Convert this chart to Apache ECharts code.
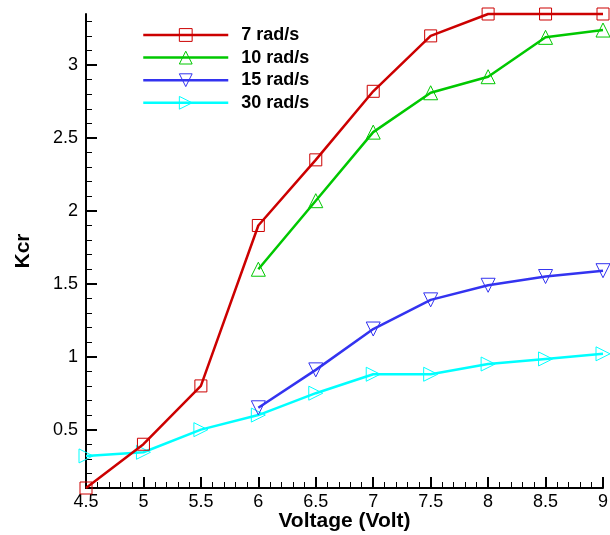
<!DOCTYPE html>
<html><head><meta charset="utf-8">
<script src="https://cdn.jsdelivr.net/npm/echarts@6/dist/echarts.min.js"></script>
<style>html,body{margin:0;padding:0;background:#fff}#c{width:610px;height:535px}</style>
</head><body><div id="c"></div>
<script>
const voltage = [4.5, 5, 5.5, 6, 6.5, 7, 7.5, 8, 8.5, 9];
const k7 = [0.1, 0.4, 0.8, 1.9, 2.35, 2.82, 3.2, 3.35, 3.35, 3.35];
const k10 = [null, null, null, 1.6, 2.07, 2.54, 2.81, 2.92, 3.19, 3.24];
const k15 = [null, null, null, 0.65, 0.91, 1.19, 1.39, 1.49, 1.55, 1.59];
const k30 = [0.32, 0.345, 0.5, 0.6, 0.75, 0.88, 0.88, 0.95, 0.985, 1.02];
const names = ['7 rad/s', '10 rad/s', '15 rad/s', '30 rad/s'];
const yMajor = [0.5, 1, 1.5, 2, 2.5, 3];
const yMinor = [0.2, 0.3, 0.4, 0.6, 0.7, 0.8, 0.9, 1.1, 1.2, 1.3, 1.4, 1.6, 1.7, 1.8, 1.9, 2.1, 2.2, 2.3, 2.4, 2.6, 2.7, 2.8, 2.9, 3.1, 3.2, 3.3];

const colors = ['#cc0000', '#00c800', '#3333f0', '#00ffff'];
const symbols = ['rect', 'triangle', 'triangle', 'triangle'];
const rotates = [0, 0, 180, -90];
const sets = [k7, k10, k15, k30];
const FONT = 'Liberation Sans, Arial, Helvetica';

const chart = echarts.init(document.getElementById('c'));
const series = sets.map((arr, i) => ({
  name: names[i],
  type: 'line',
  data: voltage.map((v, j) => arr[j] == null ? null : [v, arr[j]]).filter(d => d),
  symbol: symbols[i],
  symbolRotate: rotates[i],
  symbolSize: i === 0 ? 12 : 14,
  showAllSymbol: true,
  clip: false,
  lineStyle: { color: colors[i], width: 2.5 },
  itemStyle: { color: 'rgba(0,0,0,0)', borderColor: colors[i], borderWidth: 1 },
  emphasis: { disabled: true },
  z: 10 - i
}));

chart.setOption({
  animation: false,
  backgroundColor: '#fff',
  grid: { left: 86, right: 7, top: 14, bottom: 47, outerBoundsMode: 'none', containLabel: false },
  legend: {
    left: 142, top: 26, orient: 'vertical', padding: 0,
    itemWidth: 85, itemHeight: 16, itemGap: 4.6,
    lineStyle: { width: 2.5 },
    itemStyle: { borderWidth: 1 },
    textStyle: { fontFamily: FONT, fontWeight: 'bold', fontSize: 18, color: '#000', padding: [0, 0, 0, 8] },
    data: names
  },
  xAxis: {
    type: 'value', min: 4.5, max: 9, interval: 0.5,
    name: 'Voltage (Volt)', nameLocation: 'middle', nameGap: 23, nameMoveOverlap: false,
    nameTextStyle: { fontFamily: FONT, fontWeight: 'bold', fontSize: 21, color: '#000' },
    axisLine: { lineStyle: { color: '#000', width: 2 } },
    axisTick: { inside: true, length: 11, lineStyle: { color: '#000', width: 2 } },
    minorTick: { show: true, splitNumber: 5, length: 6, lineStyle: { color: '#000', width: 1 } },
    axisLabel: { fontFamily: FONT, fontSize: 18, color: '#000', margin: 5 },
    splitLine: { show: false }
  },
  yAxis: [{
    type: 'value', min: 0.1, max: 3.35,
    name: 'Kcr', nameLocation: 'middle', nameGap: 52, nameMoveOverlap: false,
    nameTextStyle: { fontFamily: FONT, fontWeight: 'bold', fontSize: 21, color: '#000' },
    axisLine: { lineStyle: { color: '#000', width: 2 } },
    axisTick: { inside: true, length: 11, customValues: yMajor, lineStyle: { color: '#000', width: 2 } },
    axisLabel: { fontFamily: FONT, fontSize: 18, color: '#000', margin: 8, customValues: yMajor },
    splitLine: { show: false }
  }, {
    type: 'value', min: 0.1, max: 3.35, position: 'left',
    axisLine: { show: false },
    axisTick: { inside: true, length: 6, customValues: yMinor, lineStyle: { color: '#000', width: 1 } },
    axisLabel: { show: false },
    splitLine: { show: false }
  }],
  series: series
});
</script></body></html>
